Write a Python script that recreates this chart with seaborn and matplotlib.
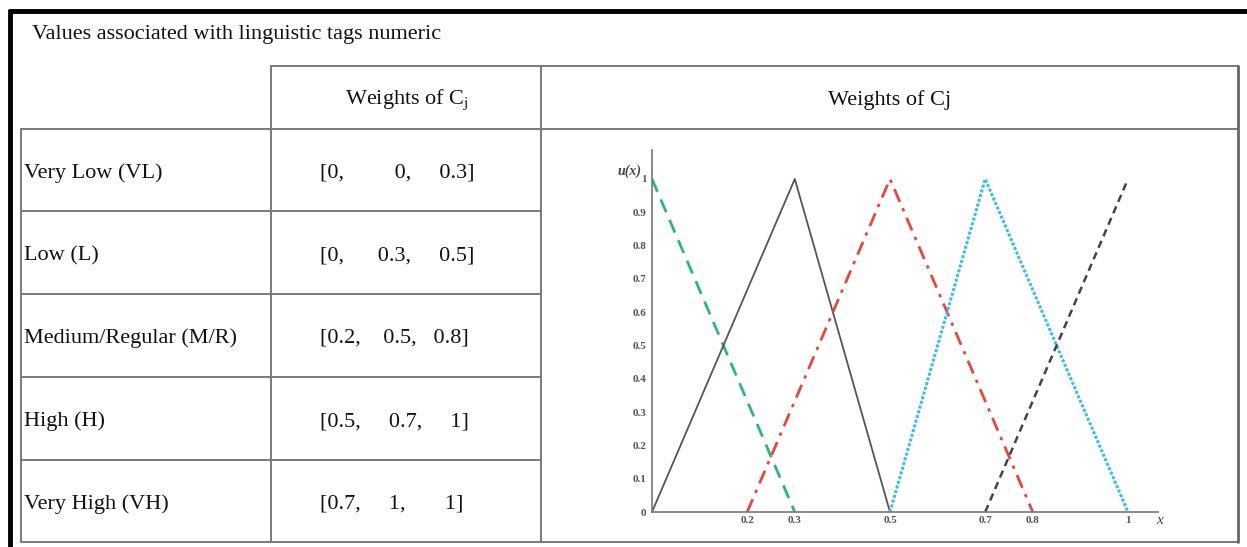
import numpy as np
import matplotlib
matplotlib.use("Agg")
import matplotlib.pyplot as plt
import seaborn as sns

# Table data
title = "Values associated with linguistic tags numeric"
tags = ["Very Low (VL)", "Low (L)", "Medium/Regular (M/R)", "High (H)", "Very High (VH)"]
value_text = ["[0,         0,     0.3]", "[0,      0.3,     0.5]", "[0.2,    0.5,   0.8]",
              "[0.5,     0.7,     1]", "[0.7,     1,       1]"]

# Triangular fuzzy numbers (a, b, c)
vl = [0, 0, 0.3]
low = [0, 0.3, 0.5]
med = [0.2, 0.5, 0.8]
high = [0.5, 0.7, 1]
vh = [0.7, 1, 1]

xticks = [0.2, 0.3, 0.5, 0.7, 0.8, 1]
xtick_labels = ["0.2", "0.3", "0.5", "0.7", "0.8", "1"]
yticks = [0, 0.1, 0.2, 0.3, 0.4, 0.5, 0.6, 0.7, 0.8, 0.9, 1]
ytick_labels = ["0", "0.1", "0.2", "0.3", "0.4", "0.5", "0.6", "0.7", "0.8", "0.9", "1"]

sns.set_style("white")
plt.rcParams["font.family"] = ["Liberation Serif", "DejaVu Serif"]
plt.rcParams["mathtext.fontset"] = "stix"

W, H = 1247, 547
fig = plt.figure(figsize=(W / 100, H / 100), dpi=100)

# background axes in pixel coordinates for the table
bg = fig.add_axes([0, 0, 1, 1])
bg.set_xlim(0, W)
bg.set_ylim(H, 0)
bg.axis("off")

# thick black frame
bg.plot([9, W], [11, 11], color="black", lw=3.5, solid_capstyle="butt")
bg.plot([9.5, 9.5], [9, H], color="black", lw=3.5, solid_capstyle="butt")

grid = "#7a7a7a"
lw = 1.4
rows_y = [129, 211, 294, 377, 460, 542]
left, c1, c2, right, top = 21, 271, 541, 1238, 66

bg.plot([c1, right], [top, top], color=grid, lw=lw)
bg.plot([left, right], [rows_y[0], rows_y[0]], color=grid, lw=lw)
for y in rows_y[1:-1]:
    bg.plot([left, c2], [y, y], color=grid, lw=lw)
bg.plot([left, right], [rows_y[-1], rows_y[-1]], color=grid, lw=lw)
bg.plot([left, left], [rows_y[0], rows_y[-1]], color=grid, lw=lw)
bg.plot([c1, c1], [top, rows_y[-1]], color=grid, lw=lw)
bg.plot([c2, c2], [top, rows_y[-1]], color=grid, lw=lw)
bg.plot([right, right], [top, rows_y[-1]], color="#666666", lw=2)

fs = 16
bg.text(32, 34, title, fontsize=fs, va="center", ha="left", color="#111111")
bg.text(407, 100, r"Weights of C$_{\rm j}$", fontsize=fs,
        ha="center", va="center", color="#111111")
bg.text(890, 100, "Weights of Cj", fontsize=fs,
        ha="center", va="center", color="#111111")

for i, (tag, val) in enumerate(zip(tags, value_text)):
    yc = (rows_y[i] + rows_y[i + 1]) / 2 + 3
    bg.text(24, yc, tag, fontsize=fs, ha="left", va="center", color="#111111")
    bg.text(320, yc, val, fontsize=fs, ha="left", va="center", color="#111111")

# chart axes: x 0..1 -> px 652..1128, y 0..1 -> px 512..179
x0, x1, y0, y1 = 652, 1128, 512, 179
ax_right, ax_top = 1158, 150
ax = fig.add_axes([x0 / W, 1 - y0 / H, (ax_right - x0) / W, (y0 - ax_top) / H])
ax.set_facecolor("none")


def tri_points(t):
    a, b, c = t
    xs, ys = [], []
    if a < b:
        xs.append(a); ys.append(0)
    xs.append(b); ys.append(1)
    if b < c:
        xs.append(c); ys.append(0)
    return xs, ys


styles = [
    (vl, "#2db57e", (0, (5, 3)), 2.0),
    (low, "#555555", "-", 1.3),
    (med, "#e8453c", (0, (5, 2.5, 1.2, 2.5)), 2.0),
    (high, "#3dbde8", (0, (1, 0.6)), 2.2),
    (vh, "#444444", (0, (3, 2)), 1.8),
]
for t, col, ls, w in styles:
    xs, ys = tri_points(t)
    sns.lineplot(x=xs, y=ys, ax=ax, color=col, linestyle=ls, linewidth=w,
                 estimator=None, sort=False)

ax.set_xlim(0, (ax_right - x0) / (x1 - x0))
ax.set_ylim(0, (y0 - ax_top) / (y0 - y1))
for s in ["top", "right"]:
    ax.spines[s].set_visible(False)
for s in ["left", "bottom"]:
    ax.spines[s].set_color("#777777")
    ax.spines[s].set_linewidth(1.2)

ax.set_xticks(xticks)
ax.set_xticklabels(xtick_labels)
ax.set_yticks(yticks)
ax.set_yticklabels(ytick_labels)
ax.tick_params(axis="both", length=0, labelsize=8, labelcolor="#555555")
ax.tick_params(axis="x", pad=3)
ax.tick_params(axis="y", pad=4)
for lab in ax.get_xticklabels() + ax.get_yticklabels():
    lab.set_fontweight("bold")

bg.text(641, 171, "u(x)", fontsize=10, fontweight="bold", fontstyle="italic",
        ha="right", va="center", color="#444444")
bg.text(1156, 521, "x", fontsize=11, fontstyle="italic", ha="left", va="center",
        color="#444444")

fig.savefig("out.png", dpi=100)
